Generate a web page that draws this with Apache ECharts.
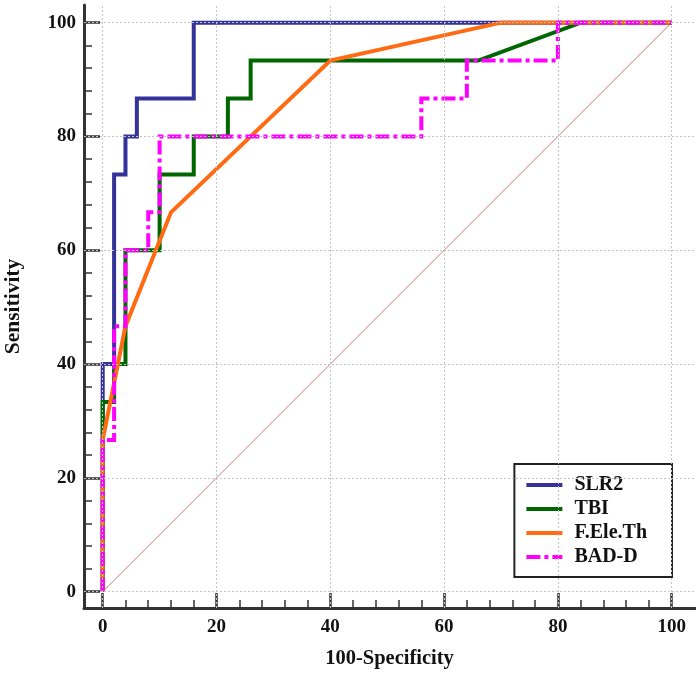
<!DOCTYPE html>
<html>
<head>
<meta charset="utf-8">
<script src="https://cdn.jsdelivr.net/npm/echarts@6/dist/echarts.min.js"></script>
<style>
html,body{margin:0;padding:0;background:#fff;}
#c{width:696px;height:675px;}
</style>
</head>
<body>
<div id="c"></div>
<script>
// ---- data ----
const seriesNames = ['SLR2', 'TBI', 'F.Ele.Th', 'BAD-D'];
const slr2 = [[0,0],[0,40],[2,40],[2,73.33],[4,73.33],[4,80],[6,80],[6,86.67],[16,86.67],[16,100],[100,100]];
const tbi = [[0,0],[0,33.33],[2,33.33],[2,40],[4,40],[4,60],[10,60],[10,73.33],[16,73.33],[16,80],[22,80],[22,86.67],[26,86.67],[26,93.33],[66,93.33],[84,100],[100,100]];
const fEleTh = [[0,0],[0,26.67],[4,46.67],[12,66.67],[40,93.33],[70,100],[100,100]];
const badD = [[0,0],[0,26.67],[2,26.67],[2,46.67],[4,46.67],[4,60],[8,60],[8,66.67],[10,66.67],[10,80],[56,80],[56,86.67],[64,86.67],[64,93.33],[80,93.33],[80,100],[100,100]];
const diagonal = [[0,0],[100,100]];
const majorTicks = [0, 20, 40, 60, 80, 100];
const minorTicks = [4, 8, 12, 16, 24, 28, 32, 36, 44, 48, 52, 56, 64, 68, 72, 76, 84, 88, 92, 96];
const xTitle = '100-Specificity';
const yTitle = 'Sensitivity';

// ---- chart ----
const FONT = 'Liberation Serif';
const AX = '#333';
const chart = echarts.init(document.getElementById('c'), null, {renderer: 'canvas'});

function mkAxis(kind, isMajor) {
  const isX = kind === 'x';
  const base = {
    type: 'value',
    min: isX ? -3.29 : -2.86,
    max: isX ? 104.1 : 103.1,
    position: isX ? 'bottom' : 'left',
    axisLine: {show: isMajor, onZero: false, lineStyle: {color: AX, width: 3}},
    axisTick: {
      show: true, inside: true,
      length: isMajor ? (isX ? 15 : 16) : 8,
      customValues: isMajor ? majorTicks : minorTicks,
      lineStyle: {color: AX, width: isMajor ? 2.5 : 1.5}
    },
    axisLabel: {
      show: isMajor,
      customValues: majorTicks,
      fontFamily: FONT, fontWeight: 'bold', fontSize: 19, color: '#111',
      margin: isX ? 10 : 8
    },
    splitLine: {show: false},
    minorTick: {show: false}
  };
  if (isMajor) {
    base.name = isX ? xTitle : yTitle;
    base.nameLocation = 'middle';
    base.nameGap = isX ? 40 : 60;
    base.nameTextStyle = {fontFamily: FONT, fontWeight: 'bold', fontSize: isX ? 20.5 : 21.5, color: '#111'};
  }
  return base;
}

function gridLines(axisKey) {
  return {
    silent: true,
    symbol: 'none',
    label: {show: false},
    lineStyle: {color: '#c4c4c4', type: [2, 2], width: 1},
    data: majorTicks.map(v => ({[axisKey]: v}))
  };
}

function lineSeries(name, data, color, type) {
  return {
    name: name, type: 'line', data: data,
    showSymbol: false, symbol: 'none', animation: false,
    lineStyle: {color: color, width: 4, type: type || 'solid', cap: 'butt', join: 'miter'},
    itemStyle: {color: color},
    z: 3
  };
}

const option = {
  backgroundColor: '#fff',
  animation: false,
  grid: {left: 84, right: 1, top: 5, bottom: 67, containLabel: false, outerBoundsMode: 'none'},
  xAxis: [mkAxis('x', true), mkAxis('x', false)],
  yAxis: [mkAxis('y', true), mkAxis('y', false)],
  legend: {
    data: seriesNames,
    orient: 'vertical',
    right: 24, top: 464,
    backgroundColor: '#fff',
    borderColor: '#222', borderWidth: 2,
    padding: [11, 25, 10, 10],
    itemWidth: 36, itemHeight: 14, itemGap: 4,
    itemStyle: {opacity: 0},
    lineStyle: {width: 4},
    textStyle: {fontFamily: FONT, fontWeight: 'bold', fontSize: 20, lineHeight: 16, color: '#111', padding: [0, 0, 0, 7]}
  },
  series: [
    {
      name: 'grid', type: 'line', data: [], xAxisIndex: 0, yAxisIndex: 0,
      markLine: Object.assign(gridLines('xAxis'), {animation: false}),
      z: 1
    },
    {
      name: 'grid2', type: 'line', data: [], xAxisIndex: 0, yAxisIndex: 0,
      markLine: Object.assign(gridLines('yAxis'), {animation: false}),
      z: 1
    },
    {
      name: 'diag', type: 'line', data: diagonal, showSymbol: false, symbol: 'none',
      lineStyle: {color: '#c77b7b', width: 1}, z: 2, silent: true
    },
    lineSeries('SLR2', slr2, '#333399'),
    lineSeries('TBI', tbi, '#006600'),
    lineSeries('F.Ele.Th', fEleTh, '#ff6a13'),
    lineSeries('BAD-D', badD, '#ff00ff', [14, 4, 4, 4])
  ]
};
chart.setOption(option);
</script>
</body>
</html>
